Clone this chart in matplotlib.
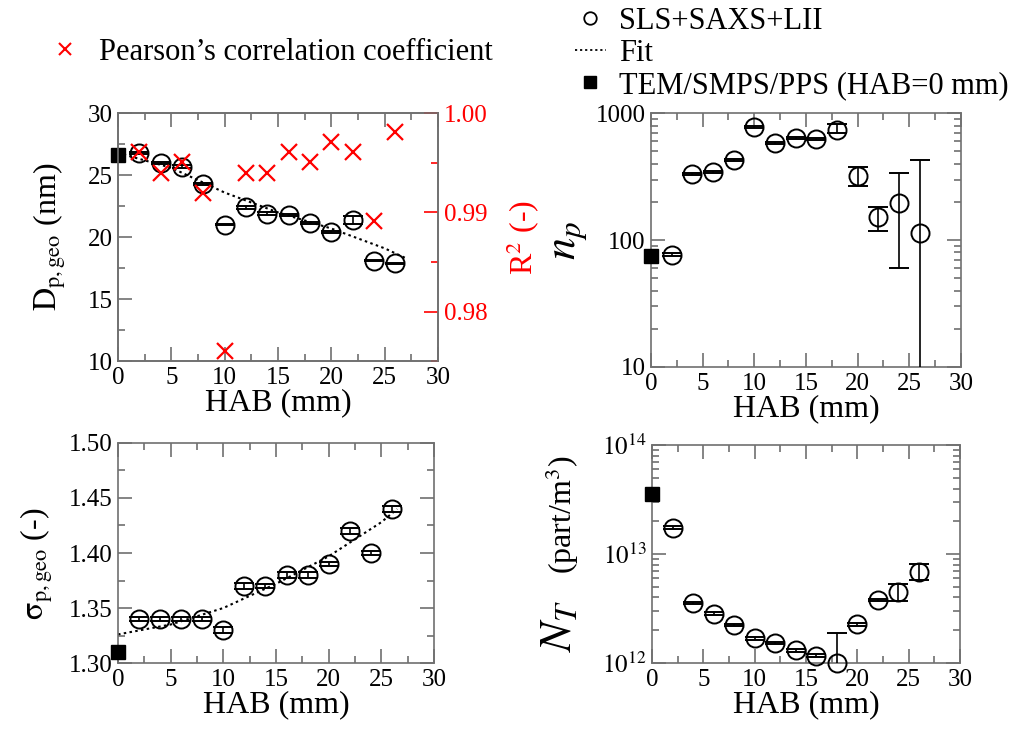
import matplotlib
matplotlib.use("Agg")
import matplotlib.pyplot as plt
from matplotlib.lines import Line2D
from matplotlib.ticker import MultipleLocator, LogLocator, NullFormatter

plt.rcParams['font.family'] = ['Liberation Serif', 'DejaVu Serif']
plt.rcParams['mathtext.fontset'] = 'stix'

# data
hab = [2, 4, 6, 8, 10, 12, 14, 16, 18, 20, 22, 24, 26]

d_geo = [26.8, 26.0, 25.7, 24.3, 21.0, 22.4, 21.9, 21.8, 21.15, 20.4, 21.4, 18.1, 17.9]
d_err = [0.1, 0.1, 0.15, 0.1, 0.05, 0.15, 0.1, 0.05, 0.1, 0.1, 0.3, 0.05, 0.05]
d_tem = 26.6
d_fit_x = [0, 5, 10, 15, 20, 25, 27]
d_fit_y = [26.8, 25.6, 23.6, 22.0, 20.7, 19.1, 18.3]

r2 = [0.9961, 0.9940, 0.9951, 0.9920, 0.9760, 0.9940, 0.9940, 0.9961, 0.9951,
      0.9971, 0.9961, 0.9891, 0.9981]

n_p = [77, 331, 345, 427, 785, 587, 643, 632, 734, 322, 151, 198, 113]
n_p_lo = [2, 6, 6, 8, 15, 12, 12, 12, 40, 54, 33, 138, 108]
n_p_hi = [2, 6, 6, 8, 15, 12, 12, 12, 85, 56, 32, 143, 314]
n_p_tem = 75

sigma = [1.34, 1.34, 1.34, 1.34, 1.33, 1.37, 1.37, 1.38, 1.38, 1.39, 1.42, 1.40, 1.44]
sigma_err = [0.002, 0.002, 0.002, 0.002, 0.003, 0.003, 0.002, 0.003, 0.003, 0.002,
             0.003, 0.002, 0.003]
sigma_tem = 1.31
s_fit_x = [0, 5, 10, 15, 20, 25, 26.5]
s_fit_y = [1.326, 1.335, 1.350, 1.372, 1.397, 1.428, 1.44]

n_t = [1.75e13, 3.56e12, 2.83e12, 2.24e12, 1.69e12, 1.52e12, 1.31e12, 1.17e12,
       1.0e12, 2.27e12, 3.8e12, 4.49e12, 6.84e12]
n_t_lo = [0.5e12, 0.1e12, 0.08e12, 0.06e12, 0.05e12, 0.04e12, 0.04e12, 0.03e12,
          0.5e12, 0.06e12, 0.1e12, 0.75e12, 1.02e12]
n_t_hi = [0.5e12, 0.1e12, 0.08e12, 0.06e12, 0.05e12, 0.04e12, 0.04e12, 0.03e12,
          0.88e12, 0.06e12, 0.1e12, 0.81e12, 1.33e12]
n_t_tem = 3.56e13

TICK = 18
LAB = 23
GRAY = '#707070'

fig = plt.figure(figsize=(10.14, 7.31), dpi=100)
ax1 = fig.add_axes([0.1164, 0.506, 0.3156, 0.339])
ax2 = fig.add_axes([0.642, 0.498, 0.3057, 0.347])
ax3 = fig.add_axes([0.1164, 0.093, 0.3116, 0.301])
ax4 = fig.add_axes([0.643, 0.093, 0.3037, 0.298])


def style(ax, right=True):
    for s in ax.spines.values():
        s.set_color(GRAY)
        s.set_linewidth(1.2)
    ax.tick_params(which='both', direction='in', top=True, right=right,
                   color=GRAY, labelsize=TICK, pad=4)
    ax.tick_params(which='major', length=10, width=1.2)
    ax.tick_params(which='minor', length=5, width=1.2)
    ax.set_xlim(0, 30)
    ax.xaxis.set_major_locator(MultipleLocator(5))
    ax.xaxis.set_minor_locator(MultipleLocator(2.5))
    ax.set_xlabel('HAB (mm)', fontsize=LAB, labelpad=0)


def points(ax, y, lo, hi, y0):
    ax.errorbar(hab, y, yerr=[lo, hi], fmt='none', ecolor='black',
                elinewidth=1.2, capsize=7, capthick=1.4, zorder=3)
    ax.plot(hab, y, 'o', mfc='none', mec='black', ms=13, mew=1.4,
            clip_on=False, zorder=3)
    ax.plot([0], [y0], 's', color='black', ms=10, clip_on=False, zorder=4)


# top left: D_p,geo and R^2
style(ax1, right=False)
points(ax1, d_geo, d_err, d_err, d_tem)
ax1.plot(d_fit_x, d_fit_y, color='black', lw=1.5, ls=(0, (1.2, 1.6)), zorder=2)
ax1.set_ylim(10, 30)
ax1.yaxis.set_major_locator(MultipleLocator(5))
ax1.yaxis.set_minor_locator(MultipleLocator(2.5))
ax1.set_ylabel(r'$\mathrm{D_{p,geo}}$ (nm)', fontsize=LAB)
ax1.yaxis.set_label_coords(-0.155, 0.5)

ax1r = ax1.twinx()
ax1r.plot(hab, r2, 'x', color='red', ms=11, mew=1.6, zorder=5)
ax1r.set_ylim(0.975, 1.0)
ax1r.yaxis.set_major_locator(MultipleLocator(0.01))
ax1r.yaxis.set_minor_locator(MultipleLocator(0.005))
ax1r.yaxis.set_major_formatter(plt.FormatStrFormatter('%.2f'))
for s in ax1r.spines.values():
    s.set_color(GRAY)
    s.set_linewidth(1.2)
ax1r.tick_params(which='both', direction='in', color='red', labelcolor='red',
                 labelsize=TICK, pad=4, width=1.2)
ax1r.tick_params(which='major', length=10)
ax1r.tick_params(which='minor', length=5)
ax1r.set_ylabel(r'R$^2$ (-)', fontsize=LAB, color='red')
ax1r.yaxis.set_label_coords(1.21, 0.5)

# top right: n_p
style(ax2)
points(ax2, n_p, n_p_lo, n_p_hi, n_p_tem)
ax2.set_yscale('log')
ax2.set_ylim(10, 1000)
ax2.set_yticks([10, 100, 1000])
ax2.set_yticklabels(['10', '100', '1000'])
ax2.yaxis.set_minor_locator(LogLocator(base=10, subs=range(2, 10)))
ax2.yaxis.set_minor_formatter(NullFormatter())
ax2.set_ylabel(r'$n_p$', fontsize=32)
ax2.yaxis.set_label_coords(-0.2, 0.5)

# bottom left: sigma_p,geo
style(ax3)
points(ax3, sigma, sigma_err, sigma_err, sigma_tem)
ax3.plot(s_fit_x, s_fit_y, color='black', lw=1.5, ls=(0, (1.2, 1.6)), zorder=2)
ax3.set_ylim(1.30, 1.50)
ax3.yaxis.set_major_locator(MultipleLocator(0.05))
ax3.yaxis.set_minor_locator(MultipleLocator(0.025))
ax3.yaxis.set_major_formatter(plt.FormatStrFormatter('%.2f'))
ax3.set_ylabel(r'$\mathrm{\sigma_{p,geo}}$ (-)', fontsize=LAB)
ax3.yaxis.set_label_coords(-0.2, 0.45)

# bottom right: N_T
style(ax4)
points(ax4, n_t, n_t_lo, n_t_hi, n_t_tem)
ax4.set_yscale('log')
ax4.set_ylim(1e12, 1e14)
ax4.set_yticks([1e12, 1e13, 1e14])
ax4.set_yticklabels([r'$10^{12}$', r'$10^{13}$', r'$10^{14}$'])
ax4.yaxis.set_minor_locator(LogLocator(base=10, subs=range(2, 10)))
ax4.yaxis.set_minor_formatter(NullFormatter())
ax4.text(-0.30, 0.17, r'$N_T$', transform=ax4.transAxes, rotation=90,
         ha='center', va='center', fontsize=32)
ax4.text(-0.29, 0.68, r'(part/m$^3$)', transform=ax4.transAxes, rotation=90,
         ha='center', va='center', fontsize=LAB)

# legends
h_r2 = Line2D([], [], ls='none', marker='x', color='red', ms=9, mew=1.5)
fig.legend([h_r2], ['Pearson\u2019s correlation coefficient'], loc='center left',
           bbox_to_anchor=(0.049, 0.928), frameon=False, fontsize=22,
           handlelength=1.0, handletextpad=0.6, borderpad=0, borderaxespad=0)

h_c = Line2D([], [], ls='none', marker='o', mfc='none', mec='black', ms=9, mew=1.3)
h_f = Line2D([], [], color='black', lw=1.3, ls=(0, (1.2, 1.6)))
h_s = Line2D([], [], ls='none', marker='s', color='black', ms=8)
fig.legend([h_c, h_f, h_s], ['SLS+SAXS+LII', 'Fit', 'TEM/SMPS/PPS (HAB=0 mm)'],
           loc='upper left', bbox_to_anchor=(0.564, 0.995), frameon=False,
           fontsize=22, handlelength=1.0, handletextpad=0.45, labelspacing=0.1,
           borderpad=0.1, borderaxespad=0)

fig.savefig('out.png', dpi=100)
